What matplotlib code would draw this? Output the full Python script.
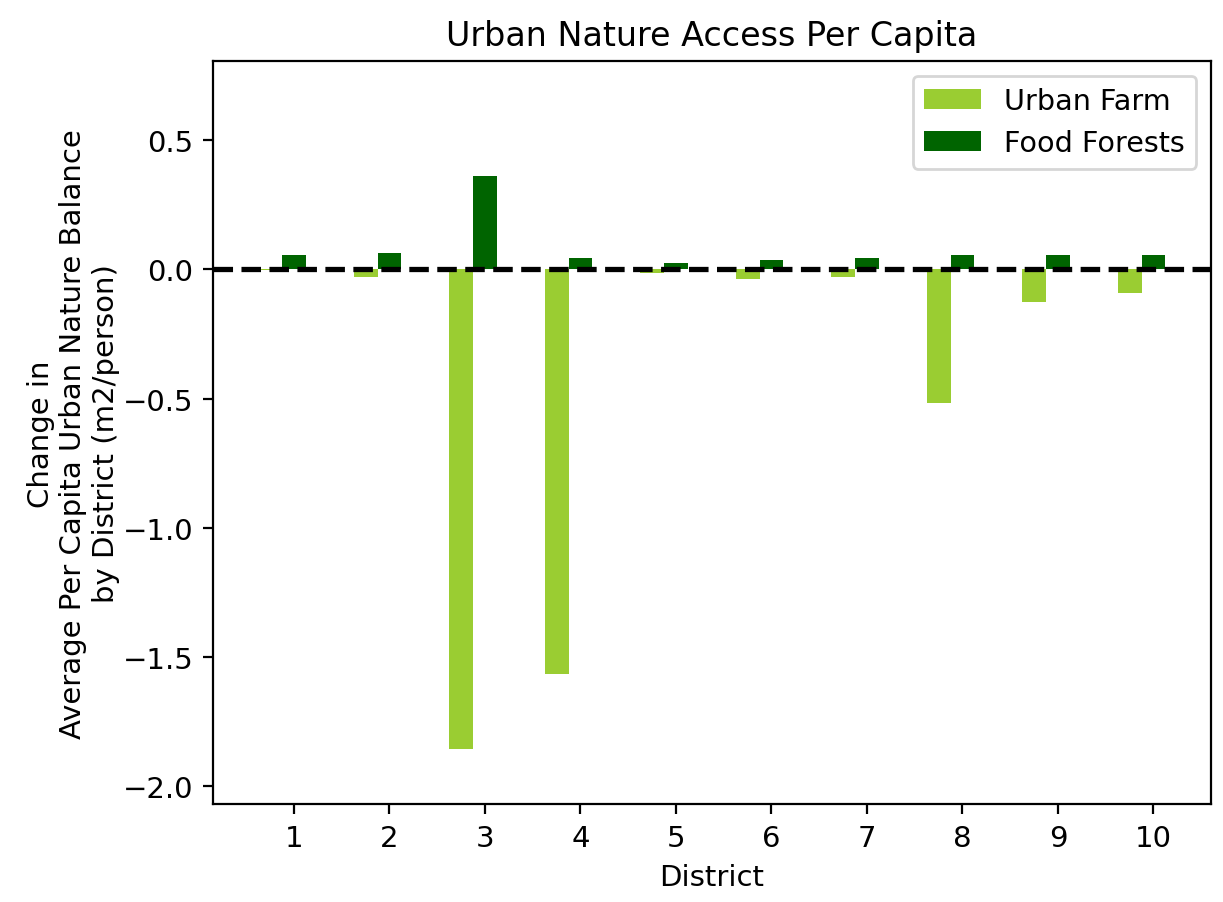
import numpy as np
import matplotlib
matplotlib.use("Agg")
import matplotlib.pyplot as plt

# data
districts = [1, 2, 3, 4, 5, 6, 7, 8, 9, 10]
urban_farm = [-0.004, -0.03, -1.856, -1.565, -0.016, -0.036, -0.03, -0.516, -0.127, -0.09]
food_forests = [0.056, 0.065, 0.36, 0.045, 0.026, 0.037, 0.043, 0.056, 0.056, 0.056]

plt.rcParams.update({
    "font.family": "DejaVu Sans",
    "font.size": 10.5,
})

fig = plt.figure(figsize=(6.115, 4.515), dpi=200)
ax = fig.add_axes([0.174, 0.108, 0.816, 0.823])

x = np.array(districts)
width = 0.25

ax.bar(x - width, urban_farm, width=width, color="yellowgreen", label="Urban Farm")
ax.bar(x, food_forests, width=width, color="darkgreen", label="Food Forests")
ax.axhline(0, color="black", linestyle="--", linewidth=1.9, zorder=5)

ax.set_xticks(x)
ax.set_xticklabels([str(d) for d in districts])
ax.set_ylim(-2.071, 0.805)
ax.set_yticks([-2.0, -1.5, -1.0, -0.5, 0.0, 0.5])

ax.set_xlabel("District")
ax.set_ylabel("Change in\nAverage Per Capita Urban Nature Balance\nby District (m2/person)",
              labelpad=1)
ax.set_title("Urban Nature Access Per Capita", fontsize=12)
ax.legend(loc="upper right", fontsize=10.3)

fig.savefig("out.png", dpi=200)
